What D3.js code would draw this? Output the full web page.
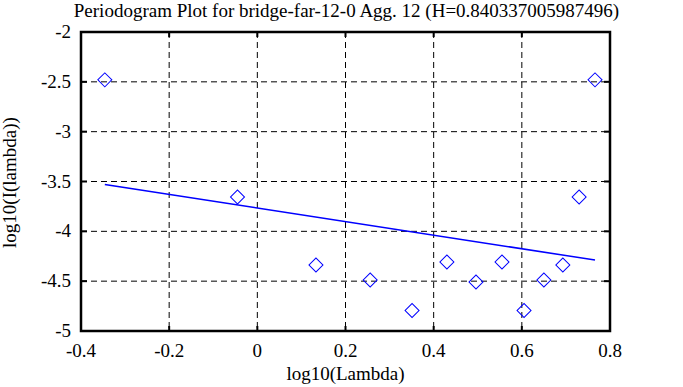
<!doctype html>
<html>
<head>
<meta charset="UTF-8">
<title>Periodogram Plot</title>
<script src="https://d3js.org/d3.v7.min.js"></script>
<style>
  body { margin: 0; background: #fff; }
  text { font-family: "Liberation Serif", "DejaVu Serif", serif; fill: #000; }
</style>
</head>
<body>
<svg id="chart" width="683" height="387"></svg>
<script>
// periodogram points, log10(lambda) vs log10(I(lambda))
var logLambda = [-0.346, -0.045, 0.133, 0.256, 0.351, 0.430, 0.496, 0.555, 0.605, 0.650, 0.693, 0.730, 0.766];
var logI = [-2.48, -3.655, -4.338, -4.488, -4.795, -4.308, -4.508, -4.308, -4.795, -4.488, -4.338, -3.655, -2.48];
// fitted line endpoints
var fitX = [-0.346, 0.766];
var fitY = [-3.530, -4.288];
var xTicks = [-0.4, -0.2, 0, 0.2, 0.4, 0.6, 0.8];
var yTicks = [-2, -2.5, -3, -3.5, -4, -4.5, -5];

var titleText = "Periodogram Plot for bridge-far-12-0 Agg. 12 (H=0.840337005987496)";

var pLeft = 81, pRight = 610, pTop = 32, pBottom = 331;
var fs = 19;

var svg = d3.select("#chart");
var x = d3.scaleLinear().domain([-0.4, 0.8]).range([pLeft, pRight]);
var y = d3.scaleLinear().domain([-5, -2]).range([pBottom, pTop]);

// grid
svg.selectAll(".vgrid").data(xTicks.slice(1, -1)).enter().append("line")
    .attr("x1", d => x(d)).attr("x2", d => x(d))
    .attr("y1", pTop).attr("y2", pBottom)
    .attr("stroke", "#000").attr("stroke-width", 1).attr("stroke-dasharray", "6,4");
svg.selectAll(".hgrid").data(yTicks.slice(1, -1)).enter().append("line")
    .attr("x1", pLeft).attr("x2", pRight)
    .attr("y1", d => y(d)).attr("y2", d => y(d))
    .attr("stroke", "#000").attr("stroke-width", 1).attr("stroke-dasharray", "6,4");

// ticks (inward, top/bottom and left/right)
xTicks.slice(1, -1).forEach(function(d) {
    svg.append("line").attr("x1", x(d)).attr("x2", x(d)).attr("y1", pBottom).attr("y2", pBottom - 5)
        .attr("stroke", "#000").attr("stroke-width", 2);
    svg.append("line").attr("x1", x(d)).attr("x2", x(d)).attr("y1", pTop).attr("y2", pTop + 5)
        .attr("stroke", "#000").attr("stroke-width", 2);
});
yTicks.slice(1, -1).forEach(function(d) {
    svg.append("line").attr("x1", pLeft).attr("x2", pLeft + 6).attr("y1", y(d)).attr("y2", y(d))
        .attr("stroke", "#000").attr("stroke-width", 2);
    svg.append("line").attr("x1", pRight).attr("x2", pRight - 6).attr("y1", y(d)).attr("y2", y(d))
        .attr("stroke", "#000").attr("stroke-width", 2);
});

// frame
svg.append("rect").attr("x", pLeft).attr("y", pTop)
    .attr("width", pRight - pLeft).attr("height", pBottom - pTop)
    .attr("fill", "none").attr("stroke", "#000").attr("stroke-width", 2.5);

// tick labels
svg.selectAll(".xlab").data(xTicks).enter().append("text")
    .attr("x", d => x(d)).attr("y", pBottom + 26)
    .attr("text-anchor", "middle").attr("font-size", fs)
    .text(d => String(d));
svg.selectAll(".ylab").data(yTicks).enter().append("text")
    .attr("x", pLeft - 10).attr("y", d => y(d) + 6)
    .attr("text-anchor", "end").attr("font-size", fs)
    .text(d => String(d));

// fitted line
svg.append("line")
    .attr("x1", x(fitX[0])).attr("y1", y(fitY[0]))
    .attr("x2", x(fitX[1])).attr("y2", y(fitY[1]))
    .attr("stroke", "#0000ff").attr("stroke-width", 1.5);

// diamonds
var sym = d3.symbol().type(d3.symbolSquare).size(98);
svg.selectAll(".pt").data(logLambda).enter().append("path")
    .attr("d", sym)
    .attr("transform", (d, i) => "translate(" + x(d) + "," + y(logI[i]) + ") rotate(45)")
    .attr("fill", "none").attr("stroke", "#0000ff").attr("stroke-width", 1);

// titles
svg.append("text").attr("x", (pLeft + pRight) / 2 + 1).attr("y", 17)
    .attr("text-anchor", "middle").attr("font-size", fs).text(titleText);
svg.append("text").attr("x", (pLeft + pRight) / 2).attr("y", 380)
    .attr("text-anchor", "middle").attr("font-size", fs).text("log10(Lambda)");
svg.append("text").attr("transform", "translate(16," + ((pTop + pBottom) / 2 + 1) + ") rotate(-90)")
    .attr("text-anchor", "middle").attr("font-size", fs).text("log10(I(lambda))");
</script>
</body>
</html>
